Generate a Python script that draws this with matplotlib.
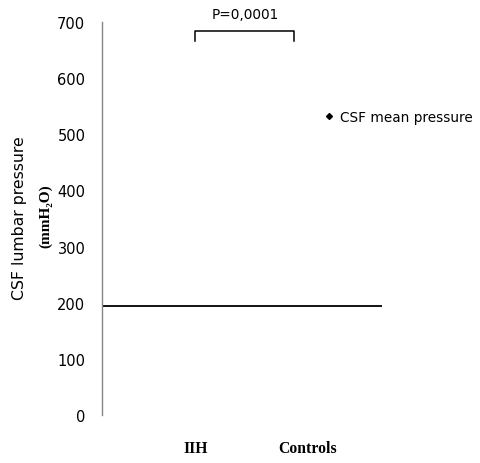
import matplotlib
matplotlib.use("Agg")
import matplotlib.pyplot as plt
from matplotlib.lines import Line2D

# Data
categories = ["IIH", "Controls"]
category_pos = [1.0, 2.2]
series_name = "CSF mean pressure"
series_x = []          # no visible points in the reference
series_y = []
reference_level = 195
bracket_x = [1.0, 2.06]
bracket_y_top = 684
bracket_y_bottom = 666
p_text = "P=0,0001"
yticks = [0, 100, 200, 300, 400, 500, 600, 700]

W, H = 481, 464
fig = plt.figure(figsize=(W / 100, H / 100), dpi=100)
ax = fig.add_axes([102 / W, 1 - 416 / H, 280 / W, (416 - 23) / H])

ax.set_xlim(0, 3)
ax.set_ylim(0, 700)

ax.plot(series_x, series_y, linestyle="none", marker="D", markersize=3,
        color="black", label=series_name)
ax.axhline(reference_level, color="black", lw=1.3)

# significance bracket
ax.plot([bracket_x[0], bracket_x[0], bracket_x[1], bracket_x[1]],
        [bracket_y_bottom, bracket_y_top, bracket_y_top, bracket_y_bottom],
        color="black", lw=1.1, clip_on=False)
ax.text(sum(bracket_x) / 2, 714, p_text, ha="center", va="center",
        fontsize=9.8, family="DejaVu Sans", clip_on=False)

for s in ["top", "right", "bottom"]:
    ax.spines[s].set_visible(False)
ax.spines["left"].set_color("#868686")
ax.spines["left"].set_linewidth(1.0)

ax.set_yticks(yticks)
ax.set_yticklabels([str(v) for v in yticks], fontsize=10.5, family="DejaVu Sans")
ax.tick_params(axis="y", length=0, pad=12)

ax.set_xticks(category_pos)
ax.set_xticklabels(categories, fontsize=11.3, family="Liberation Serif",
                   fontweight="bold")
ax.tick_params(axis="x", length=0, pad=18)

fig.text(20 / W, 1 - 218 / H, "CSF lumbar pressure", rotation=90,
         ha="center", va="center", fontsize=11.3, family="DejaVu Sans")
fig.text(46 / W, 1 - 216 / H, "(mmH₂O)", rotation=90, ha="center",
         va="center", fontsize=11, fontweight="bold",
         family=["Liberation Serif", "DejaVu Serif"])

handle = Line2D([], [], linestyle="none", marker="D", markersize=3,
                color="black")
fig.legend([handle], [series_name], loc="center left",
           bbox_to_anchor=(318 / W, 1 - 118 / H), frameon=False,
           handlelength=0.8, handletextpad=0.4, borderaxespad=0,
           prop={"family": "DejaVu Sans", "size": 9.8})

fig.savefig("out.png", dpi=100)
